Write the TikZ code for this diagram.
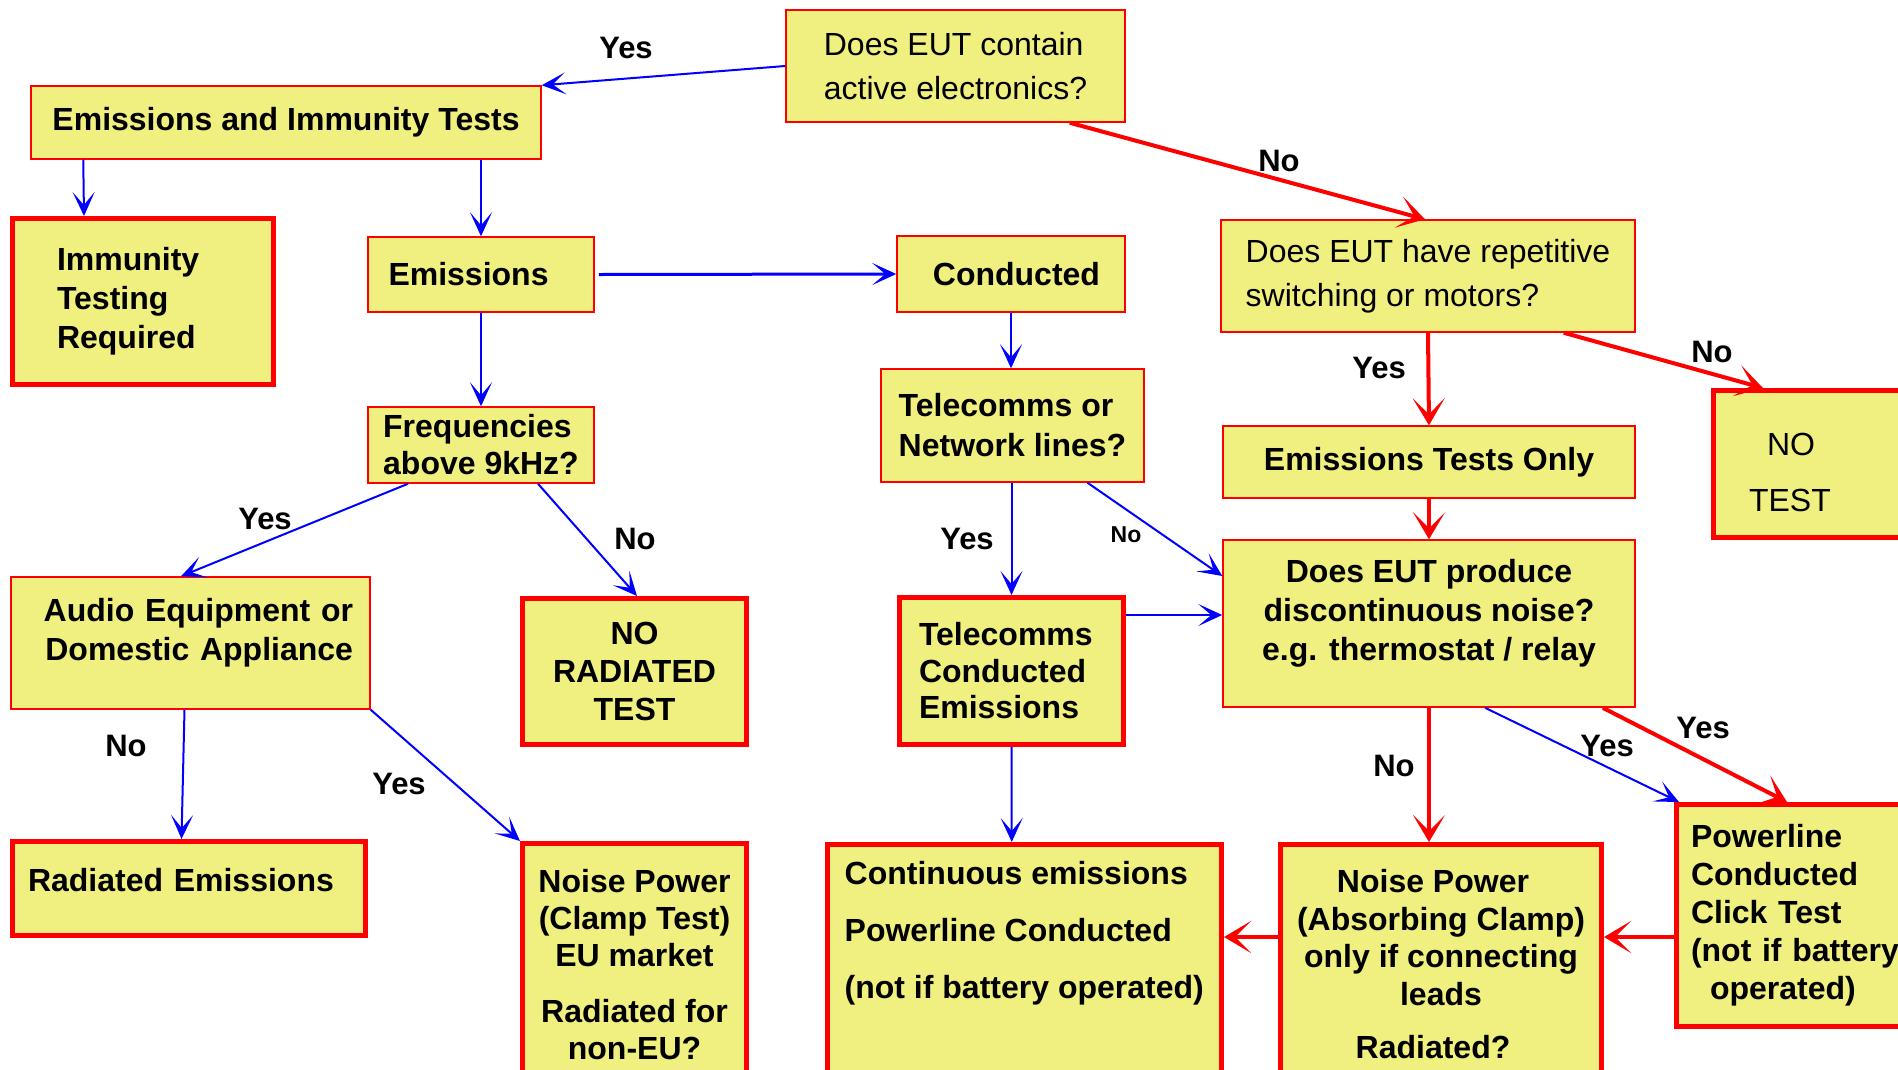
\documentclass[tikz,border=0pt]{standalone}
\usepackage{fontspec}
\setmainfont{Liberation Sans}
\usepackage{tikz}
\usetikzlibrary{arrows.meta}
\definecolor{boxfill}{HTML}{F0F080}
\definecolor{boxred}{HTML}{FF0000}
\definecolor{arrblue}{HTML}{0000FF}
\newcommand{\sz}[1]{\fontsize{32}{#1}\selectfont}

\begin{document}
\begin{tikzpicture}[x=1pt,y=-1pt,
  box/.style={draw=boxred,fill=boxfill,line width=1.5pt,inner sep=0pt,align=center,font=\bfseries\sz{39}},
  endbox/.style={box,line width=5pt},
  lightfont/.style={font=\sz{44}},
  lbl/.style={font=\bfseries\fontsize{31}{31}\selectfont,inner sep=0pt},
  bluearrow/.style={draw=arrblue,line width=2pt,-{Stealth[length=24pt,width=22pt,inset=13pt]}},
  redarrow/.style={draw=boxred,line width=4pt,-{Stealth[length=27pt,width=32pt,inset=16pt]}}]
  \path[use as bounding box,fill=white] (0,0) rectangle (1898,1069);
  \clip (0,0) rectangle (1898,1069);

  \node[box,lightfont,minimum width=339pt,minimum height=112pt,align=left] (q1) at (955.5,66) {Does EUT contain\\active electronics?};
  \node[box,minimum width=510pt,minimum height=73pt] (eit) at (286,122.5) {Emissions and Immunity Tests};
  \node[endbox,minimum width=261pt,minimum height=166pt,align=left,text width=172pt,inner xsep=44.5pt] (imm) at (143,301.5) {Immunity\\Testing\\Required};
  \node[box,minimum width=226pt,minimum height=75pt,align=left,text width=185pt,inner xsep=20.5pt] (emis) at (481,274.5) {Emissions};
  \node[box,minimum width=228pt,minimum height=76pt,align=right,text width=178pt,inner xsep=25pt] (cond) at (1011,274) {Conducted};
  \node[box,lightfont,minimum width=414pt,minimum height=112pt,align=left] (q2) at (1428,276) {Does EUT have repetitive\\switching or motors?};
  \node[endbox,minimum width=246.5pt,minimum height=147pt,align=left,text width=175.5pt,inner xsep=35.5pt,font=\sz{56}] (notest) at (1836.75,464) {\mbox{}\\[-16pt]\hspace*{18pt}NO\\TEST};
  \node[box,minimum width=263pt,minimum height=113pt,align=left,font=\bfseries\sz{40}] (tel) at (1012.5,425.5) {Telecomms or\\Network lines?};
  \node[box,minimum width=412pt,minimum height=72pt] (eto) at (1429,462) {Emissions Tests Only};
  \node[box,minimum width=226pt,minimum height=76pt,align=left,font=\bfseries\sz{37}] (freq) at (481,445) {Frequencies\\above 9kHz?};
  \node[box,minimum width=412pt,minimum height=167pt] (q3) at (1429,623.5) {Does EUT produce\\discontinuous noise?\\e.g. thermostat / relay\\[-12pt]\mbox{}};
  \node[box,minimum width=359pt,minimum height=132pt,align=right,text width=325pt,inner xsep=17pt] (audio) at (190.5,643) {Audio Equipment or\\Domestic Appliance\\[-12pt]\mbox{}};
  \node[endbox,minimum width=224pt,minimum height=146pt,font=\bfseries\sz{38}] (norad) at (634.5,671.5) {NO\\RADIATED\\TEST};
  \node[endbox,minimum width=224pt,minimum height=147pt,align=left,text width=185pt,inner xsep=19.5pt,font=\bfseries\sz{36.5}] (telc) at (1011.5,671) {Telecomms\\Conducted\\Emissions};
  \node[endbox,minimum width=353pt,minimum height=94pt,align=left,text width=322pt,inner xsep=15.5pt] (radem) at (189,888.5) {Radiated Emissions\\[-22pt]\mbox{}};
  \node[endbox,minimum width=224pt,minimum height=242pt,font=\bfseries\sz{37}] (npc) at (634.5,964.5) {Noise Power\\(Clamp Test)\\EU market\\[19pt]Radiated for\\non-EU?};
  \node[endbox,minimum width=394.5pt,minimum height=245.5pt,align=left,font=\bfseries\sz{57}] (cont) at (1024.25,967.25) {Continuous emissions\\Powerline Conducted\\(not if battery operated)\\[18pt]\mbox{}};
  \node[endbox,minimum width=321pt,minimum height=239pt,font=\bfseries\sz{37.5}] (npa) at (1441,964) {Noise Power\hspace*{16pt}\\(Absorbing Clamp)\\only if connecting\hspace*{12pt}\\leads\hspace*{16pt}\\[15.5pt]Radiated?\hspace*{16pt}};
  \node[endbox,minimum width=283.5pt,minimum height=222pt,align=left,text width=254.5pt,inner xsep=14.5pt,font=\bfseries\sz{38}] (pw) at (1818.25,915.5) {Powerline\\Conducted\\Click Test\\(not if battery\\\hspace*{19pt}operated)};

  \draw[bluearrow] (q1.west) -- (eit.north east);
  \draw[redarrow] ([xshift=-56pt]q1.south east) -- ([xshift=-3pt]q2.north);
  \draw[bluearrow] ([xshift=53pt]eit.south west) -- ([xshift=-59pt]imm.north);
  \draw[bluearrow] (emis.north |- eit.south) -- (emis.north);
  \draw[bluearrow,line width=3pt] ([xshift=4pt]emis.east) -- (cond.west);
  \draw[bluearrow] (emis.south) -- (freq.north);
  \draw[bluearrow] (cond.south) -- (cond.south |- tel.north);
  \draw[redarrow] (q2.south) -- (eto.north);
  \draw[redarrow] ([xshift=-72pt]q2.south east) -- ([xshift=52pt]notest.north west);
  \draw[redarrow] (eto.south) -- (q3.north);
  \draw[bluearrow] ([xshift=-73pt]freq.south) -- ([xshift=-9.5pt]audio.north);
  \draw[bluearrow] ([xshift=57pt]freq.south) -- ([xshift=2.5pt]norad.north);
  \draw[bluearrow] (telc.north |- tel.south) -- (telc.north);
  \draw[bluearrow] ([xshift=75pt]tel.south) -- ([yshift=47.5pt]q3.west);
  \draw[bluearrow] ([yshift=56pt]telc.east) -- ([yshift=8.5pt]q3.west);
  \draw[bluearrow] ([xshift=-6pt]audio.south) -- ([xshift=-7.5pt]radem.north);
  \draw[bluearrow] (audio.south east) -- (npc.north west);
  \draw[bluearrow] (telc.south) -- ([xshift=-12.5pt]cont.north);
  \draw[redarrow] (q3.south) -- ([xshift=-12pt]npa.north);
  \draw[bluearrow] ([xshift=56pt]q3.south) -- ([xshift=5pt]pw.north west);
  \draw[redarrow] ([xshift=-33pt]q3.south east) -- ([xshift=113pt]pw.north west);
  \draw[redarrow] (pw.west |- 0,937) -- (npa.east |- 0,937);
  \draw[redarrow] (npa.west |- 0,937) -- (cont.east |- 0,937);

  \node[lbl] (l1) at (626,48) {Yes};
  \node[lbl] (l2) at (1279,161) {No};
  \node[lbl] (l3) at (1379,368) {Yes};
  \node[lbl] (l4) at (1712,352) {No};
  \node[lbl] (l5) at (265,519) {Yes};
  \node[lbl] (l6) at (635,539) {No};
  \node[lbl] (l7) at (967,539) {Yes};
  \node[lbl,font=\bfseries\fontsize{23}{23}\selectfont] (l8) at (1126,535) {No};
  \node[lbl] (l9) at (126,746) {No};
  \node[lbl] (l10) at (399,784) {Yes};
  \node[lbl] (l11) at (1394,766) {No};
  \node[lbl] (l12) at (1607,746) {Yes};
  \node[lbl] (l13) at (1703,728) {Yes};
\end{tikzpicture}
\end{document}
